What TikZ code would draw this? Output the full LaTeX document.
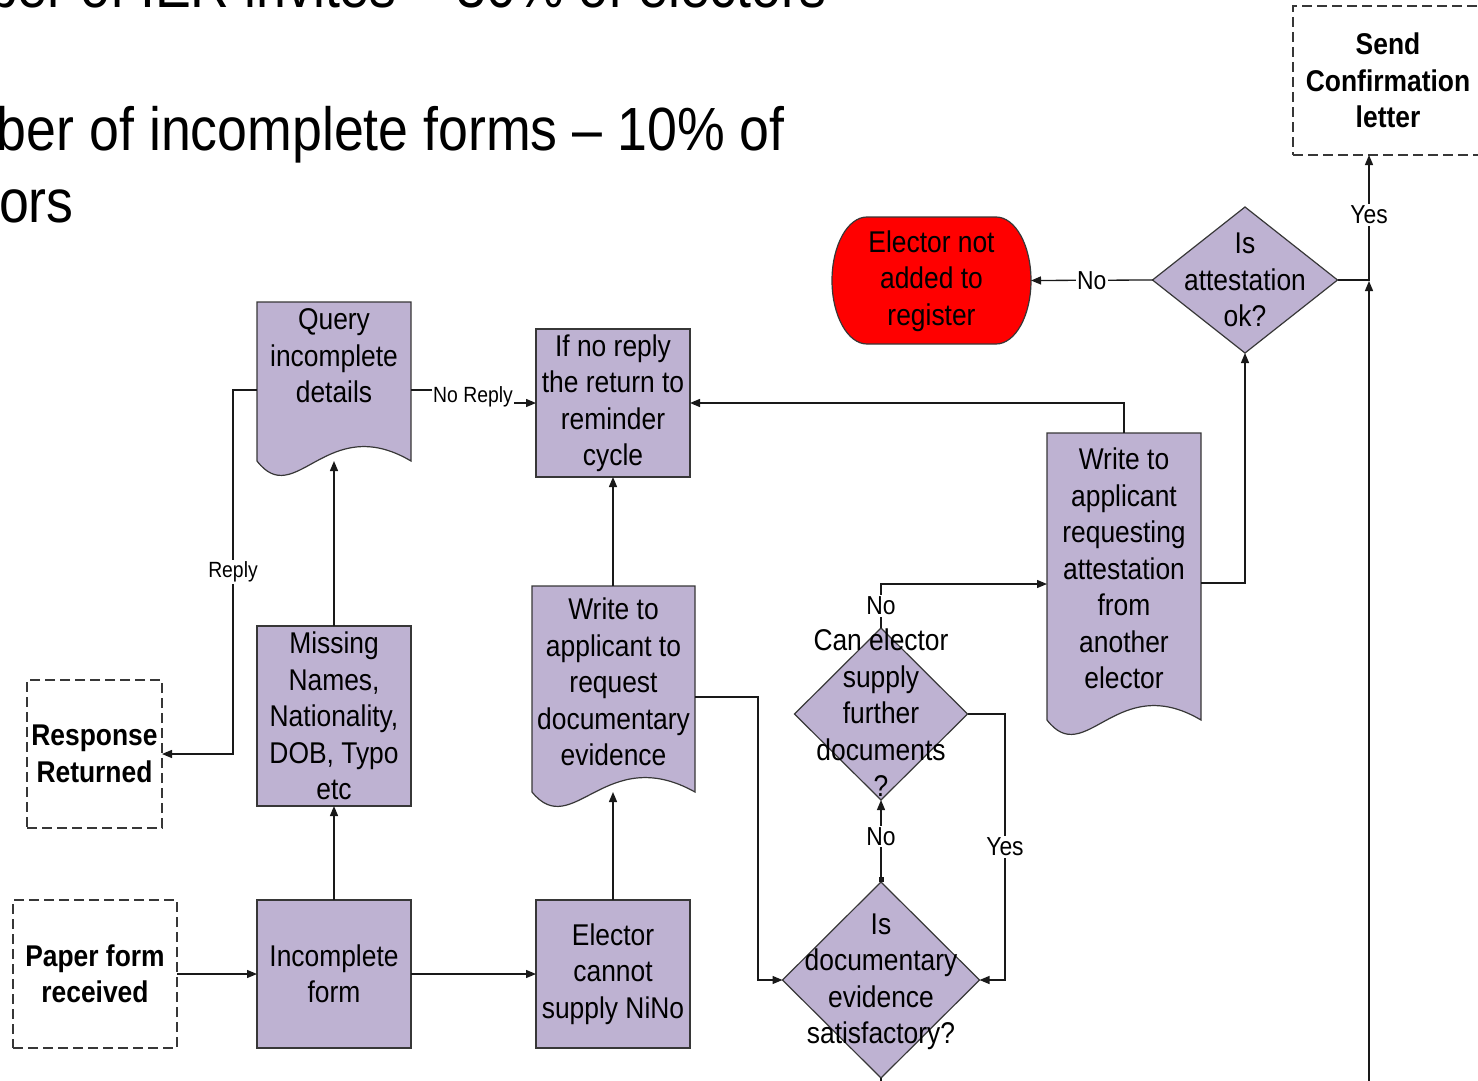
\documentclass[tikz,border=0pt]{standalone}
\usepackage{fontspec}
\setmainfont{Liberation Sans}[FakeStretch=0.88]
\usetikzlibrary{shapes.geometric,arrows.meta,calc}

\definecolor{lav}{RGB}{190,178,210}
\definecolor{edge}{RGB}{55,55,55}
\definecolor{wirecol}{RGB}{25,25,25}
\definecolor{stopred}{RGB}{255,0,0}

% outline of a document shape laid over an empty rectangular node
\newcommand\docoutline[1]{%
  \draw[frame] (#1.north west) -- (#1.north east) -- (#1.south east)
    .. controls ($(#1.south west)!0.45!(#1.south east)+(0,-50)$)
       and ($(#1.south west)!0.25!(#1.south east)+(0,50)$) .. (#1.south west) -- cycle;}

\begin{document}
\begin{tikzpicture}[x=1pt,y=-1pt,
  every node/.style={inner sep=0pt,outer sep=0pt},
  body/.style={font=\fontsize{30}{36.5}\selectfont,align=center,text=black},
  bodybold/.style={font=\fontsize{30}{36.5}\selectfont\bfseries,align=center,text=black},
  headline/.style={font=\fontsize{61}{72}\selectfont,text=black},
  frame/.style={draw=edge,fill=lav,line width=1.2pt},
  proc/.style={body,rectangle,draw=edge,fill=lav,line width=1.2pt,minimum width=154,minimum height=148},
  slot/.style={rectangle,draw=none,minimum width=#1},
  terminal/.style={bodybold,rectangle,draw=edge,line width=1.3pt,dashed,dash pattern=on 10pt off 5pt},
  choice/.style={diamond,draw=edge,fill=lav,line width=1.2pt},
  wire/.style={draw=wirecol,line width=1.3pt,-{Triangle[length=10pt,width=8pt]}},
  plain/.style={draw=wirecol,line width=1.3pt},
  lab/.style={font=\fontsize{26}{30}\selectfont,fill=white,inner sep=1.5pt},
  labsmall/.style={font=\fontsize{22}{26}\selectfont,fill=white,inner sep=1.5pt}]

\useasboundingbox (0,0) rectangle (1478,1081);
\clip (0,0) rectangle (1478,1081);

% slide text behind the chart
\node[headline,anchor=base west] (head1) at (-12,8) {ber of IER invites – 30\% of electors};
\node[headline,anchor=base west] (head2) at (-3,150) {ber of incomplete forms – 10\% of};
\node[headline,anchor=base west] (head3) at (-1,222) {ors};

% dashed start / end boxes
\node[terminal,minimum width=164,minimum height=148] (paper) at (95,974) {Paper form\\received};
\node[terminal,minimum width=135,minimum height=148] (response) at (94.5,754) {Response\\Returned};
\node[terminal,minimum width=190,minimum height=149] (send) at (1388,80.5) {Send\\Confirmation\\letter};

% process boxes
\node[proc] (incomplete) at (334,974) {Incomplete\\form};
\node[proc,minimum height=180] (missing) at (334,716) {Missing\\Names,\\Nationality,\\DOB, Typo\\etc};
\node[proc] (noreply) at (613,403) {If no reply\\the return to\\reminder\\cycle};
\node[proc] (nino) at (613,974) {Elector\\cannot\\supply NiNo};

% document shapes
\node[slot=154,minimum height=159] (query) at (334,381.5) {};
\docoutline{query}
\node[body] (queryT) at (334,356) {Query\\incomplete\\details};

\node[slot=163,minimum height=206] (writedoc) at (613.5,689) {};
\docoutline{writedoc}
\node[body] (writedocT) at (613.5,682) {Write to\\applicant to\\request\\documentary\\evidence};

\node[slot=154,minimum height=287] (attestdoc) at (1124,576.5) {};
\docoutline{attestdoc}
\node[body] (attestdocT) at (1124,568.5) {Write to\\applicant\\requesting\\attestation\\from\\another\\elector};

% decisions
\node[choice,minimum width=197,minimum height=196] (isdoc) at (881,980) {};
\node[body] (isdocT) at (881,982) {Is\\documentary\\evidence\\satisfactory?};
\node[choice,minimum width=173,minimum height=172] (canel) at (881,714) {};
\node[body] (canelT) at (881,713) {Can elector\\supply\\further\\documents\\?};
\node[choice,minimum width=185,minimum height=146] (attest) at (1245,280) {};
\node[body] (attestT) at (1245,280) {Is\\attestation\\ok?};

% rejection terminator
\node[slot=199,minimum height=127] (reject) at (931.5,280.5) {};
\draw[draw=edge,fill=stopred,line width=1.2pt]
  ($(reject.north west)+(35,0)$) -- ($(reject.north east)+(-35,0)$)
  arc[start angle=90,end angle=-90,x radius=35pt,y radius=63.5pt]
  -- ($(reject.south west)+(35,0)$)
  arc[start angle=270,end angle=90,x radius=35pt,y radius=63.5pt] -- cycle;
\node[body] (rejectT) at (931.5,281) {Elector not\\added to\\register};

% connectors
\draw[wire] (paper.east) -- (incomplete.west);
\draw[wire] (incomplete.north) -- (missing.south);
\draw[wire] (missing.north) -- (query.south);
\draw[wire] (query.west |- 0,390) -- (233,390) -- node[labsmall]{Reply} (233,754) -- (response.east);
\draw[wire] (query.east |- 0,390) -- (473,390) -- node[labsmall]{No Reply} (473,403) -- (noreply.west);
\draw[wire] (incomplete.east) -- (nino.west);
\draw[wire] (nino.north) -- (nino.north |- writedoc.south);
\draw[wire] (noreply.south |- writedoc.north) -- (noreply.south);
\draw[wire] (writedoc.east |- 0,697) -- (758,697) |- (isdoc.west);
\draw[plain,{Square[length=5pt,width=5pt]}-{Triangle[length=10pt,width=8pt]}]
  (isdoc.north) -- node[lab,pos=0.55]{No} (canel.south);
\draw[wire] (canel.east) -- (1005,714) -- node[lab]{Yes} (1005,980) -- (isdoc.east);
\draw[wire] (canel.north) -- node[lab]{No} (canel.north |- 0,584) -- (attestdoc.west |- 0,584);
\draw[wire] (attestdoc.north) -- (attestdoc.north |- 0,403) -- (noreply.east);
\draw[wire] (attestdoc.east |- 0,583) -| (attest.south);
\draw[wire] (attest.west) -- node[lab]{No} (reject.east);
\draw[wire] (attest.east) -- (1369,280) -- node[lab,pos=0.52]{Yes} (1369,280 |- send.south);
\draw[wire] (1369,1095) -- (1369,281);
\draw[plain] (isdoc.south) -- ++(0,15);

\end{tikzpicture}
\end{document}
